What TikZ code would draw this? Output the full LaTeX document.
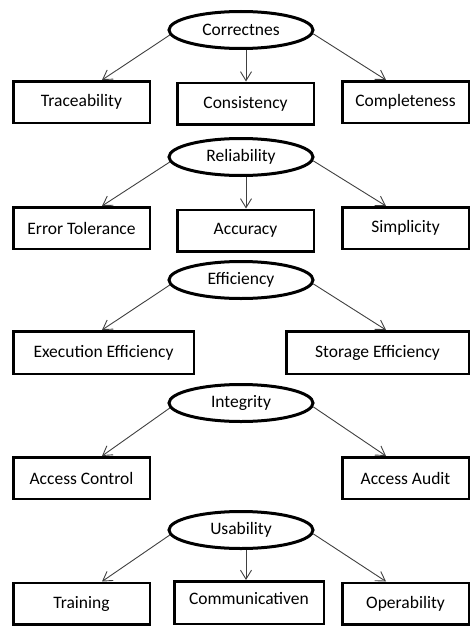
\documentclass[tikz,border=0pt]{standalone}
\usepackage{fontspec}
\setmainfont{Carlito}
\usetikzlibrary{arrows.meta}
\usetikzlibrary{positioning}
\usetikzlibrary{shapes.geometric}

\begin{document}
\begin{tikzpicture}[x=1pt, y=-1pt, font=\fontsize{17.5}{20}\selectfont,
    quality/.style={draw, ellipse, line width=3pt, minimum width=144pt, minimum height=37pt, inner sep=0pt},
    factor/.style={draw, rectangle, line width=2.5pt, minimum height=41.5pt, inner sep=0pt},
    link/.style={-{Straight Barb[length=9pt, width=11pt]}, draw=black!75, line width=0.9pt}]

    \useasboundingbox (0,0) rectangle (472,626);

    % Arrow end columns
    \coordinate (ltip) at (102,0);
    \coordinate (rtip) at (386,0);

    % Correctness
    \node [quality] (cor) at (241,30) {Correctnes};
    \node [factor, minimum width=136.5pt] (trace) at (81.5,102) {Traceability};
    \node [factor, minimum width=136.5pt] (cons) at (245.5,103.5) {Consistency};
    \node [factor, minimum width=126.5pt] (comp) at (405.5,102) {Completeness};

    \draw [link] (cor.184) -- (ltip |- trace.north);
    \draw [link] ([xshift=5]cor.south) -- ([xshift=5]cor.south |- cons.north);
    \draw [link] (cor.357) -- (rtip |- comp.north);

    % Reliability
    \node [quality] (rel) at (241,157) {Reliability};
    \node [factor, minimum width=136.5pt] (err) at (81.5,228) {Error Tolerance};
    \node [factor, minimum width=136.5pt] (accu) at (245.5,230.5) {Accuracy};
    \node [factor, minimum width=126.5pt] (simp) at (405.5,228) {Simplicity};

    \draw [link] (rel.184) -- (ltip |- err.north);
    \draw [link] ([xshift=5]rel.south) -- ([xshift=5]rel.south |- accu.north);
    \draw [link] (rel.357) -- (rtip |- simp.north);

    % Efficiency
    \node [quality] (eff) at (241,280) {Efficiency};
    \node [factor, minimum width=180.5pt, minimum height=42.5pt] (exec) at (103.5,352.5) {Execution Efficiency};
    \node [factor, minimum width=182.5pt, minimum height=42.5pt] (stor) at (377.5,352.5) {Storage Efficiency};

    \draw [link] (eff.184) -- (ltip |- exec.north);
    \draw [link] (eff.357) -- (rtip |- stor.north);

    % Integrity
    \node [quality] (integ) at (241,403) {Integrity};
    \node [factor, minimum width=136.5pt] (actrl) at (81.5,478) {Access Control};
    \node [factor, minimum width=126.5pt] (audit) at (405.5,478) {Access Audit};

    \draw [link] (integ.184) -- (ltip |- actrl.north);
    \draw [link] (integ.357) -- (rtip |- audit.north);

    % Usability
    \node [quality] (usab) at (241,530) {Usability};
    \node [factor, minimum width=136.5pt] (train) at (81.5,603.5) {Training};
    \node [factor, minimum width=149.5pt, minimum height=42.5pt, text depth=9pt] (comm) at (249,602.5) {Communicativen};
    \node [factor, minimum width=126.5pt] (oper) at (405.5,603.5) {Operability};

    \draw [link] (usab.184) -- (ltip |- train.north);
    \draw [link] ([xshift=5]usab.south) -- ([xshift=5]usab.south |- comm.north);
    \draw [link] (usab.357) -- (rtip |- oper.north);

\end{tikzpicture}
\end{document}
